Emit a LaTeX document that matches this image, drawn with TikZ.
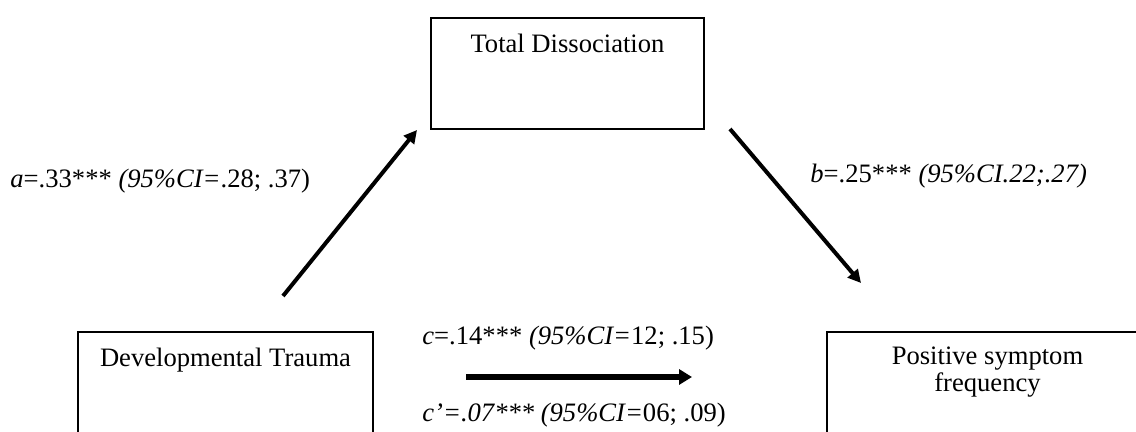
\documentclass[tikz,border=0pt]{standalone}
\usepackage{fontspec}
\setmainfont{Liberation Serif}
\usetikzlibrary{arrows.meta}
\begin{document}
\begin{tikzpicture}[x=0.5pt,y=-0.5pt,
  box/.style={draw,line width=1.3pt,inner sep=0pt},
  txt/.style={inner sep=0pt,anchor=base,font=\fontsize{13.3}{13.5}\selectfont,align=center},
  lbl/.style={inner sep=0pt,anchor=base west,font=\fontsize{13.3}{13.5}\selectfont},
  arr/.style={line width=2pt,-{Triangle[length=6.5pt,width=6.5pt]}},
  harr/.style={line width=2.8pt,-{Triangle[length=6.5pt,width=7.5pt]}}]
\useasboundingbox (0,0) rectangle (1136,432);
\clip (0,0) rectangle (1136,432);
% boxes
\node[box,minimum width=136.5pt,minimum height=55.5pt] (med) at (567.5,73.5) {};
\node[box,minimum width=147.5pt,minimum height=58pt] (dev) at (225.5,390) {};
\node[box,minimum width=160.5pt,minimum height=58pt] (pos) at (987.5,390) {};
% box texts
\node[txt] (medt) at (567.5,53) {Total Dissociation};
\node[txt] (devt) at (225.5,367) {Developmental Trauma};
\node[txt] (post) at (987.5,392) {Positive symptom\\frequency};
% arrow ends
\coordinate (a1) at (283,296);
\coordinate (a2) at (417,130);
\coordinate (b1) at (730,129);
\coordinate (b2) at (861,283);
\coordinate (c1) at (466,377);
\coordinate (c2) at (692,377);
\draw[arr] (a1) -- (a2);
\draw[arr] (b1) -- (b2);
\draw[harr] (c1) -- (c2);
% labels
\node[lbl] (la) at (10,188) {\textit{a}=.33*** \textit{(95\%CI=}.28; .37)};
\node[lbl] (lb) at (810,183) {\textit{b}=.25*** \textit{(95\%CI.22;.27)}};
\node[lbl] (lc) at (422,345) {\textit{c}=.14*** \textit{(95\%CI=}12; .15)};
\node[lbl] (lcp) at (422,422) {\textit{c’=.07***} \textit{(95\%CI=}06; .09)};
\end{tikzpicture}
\end{document}
